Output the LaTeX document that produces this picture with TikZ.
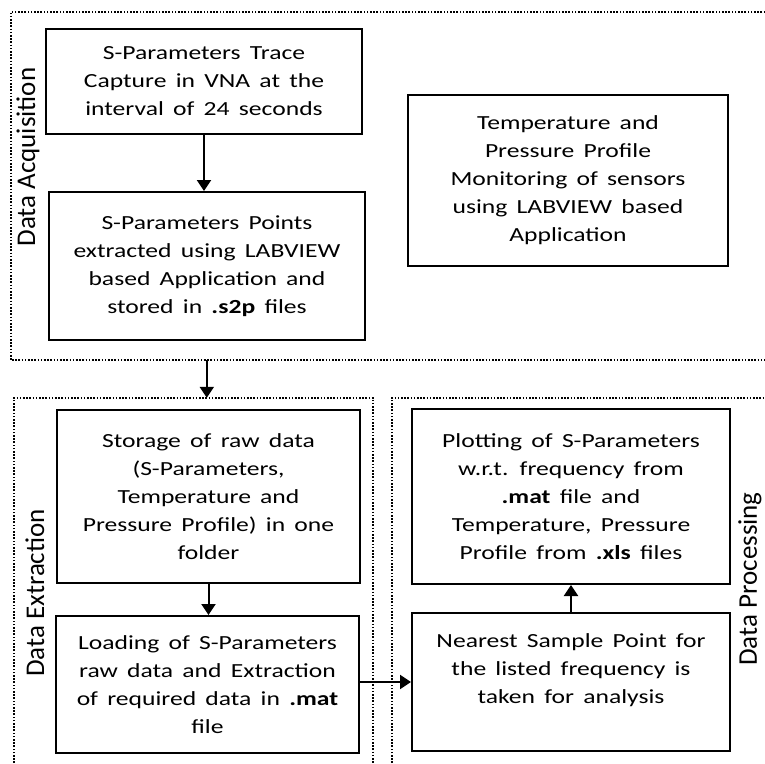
\documentclass[tikz,border=0pt]{standalone}
\usepackage{fontspec}
\setmainfont{Carlito}
\newfontfamily\boxfont[FakeStretch=1.28,WordSpace=1.6]{Carlito}
\usetikzlibrary{arrows.meta}
\begin{document}
\begin{tikzpicture}[x=1pt,y=-1pt,
  box/.style={draw=black,line width=2pt,align=center,inner sep=0pt,
    font=\boxfont\fontsize{20}{28}\selectfont},
  region/.style={draw=none,inner sep=0pt},
  dotline/.style={line width=1.6pt,dash pattern=on 1.6pt off 1.6pt},
  arr/.style={line width=2pt,-{Triangle[length=11pt,width=14pt]}},
  lbl/.style={rotate=90,font=\fontsize{27}{30}\selectfont}]
\useasboundingbox (0,0) rectangle (765,763);
% regions
\node[region,minimum width=754pt,minimum height=348pt] (da) at (388,186) {};
\node[region,minimum width=359pt,minimum height=368pt] (de) at (193.5,582) {};
\node[region,minimum width=373pt,minimum height=368pt] (dp) at (578.5,582) {};
\draw[dotline] (da.north east) -- (da.north west) -- (da.south west) -- (da.south east);
\draw[dotline] (de.south west) -- (de.north west) -- (de.north east) -- (de.south east);
\draw[dotline] (dp.south west) -- (dp.north west) -- (dp.north east);
% labels
\node[lbl] (lda) at (28,157) {Data Acquisition};
\node[lbl] (lde) at (35,593) {Data Extraction};
\node[lbl] (ldp) at (750,579) {Data Processing};
% boxes
\node[box,minimum width=316pt,minimum height=105pt] (b1) at (204,81.5)
  {S-Parameters Trace\\Capture in VNA at the\\interval of 24 seconds};
\node[box,minimum width=316pt,minimum height=148pt] (b2) at (207,266)
  {S-Parameters Points\\extracted using LABVIEW\\based Application and\\stored in \textbf{.s2p} files};
\node[box,minimum width=320pt,minimum height=171pt] (b3) at (568,180.5)
  {Temperature and\\Pressure Profile\\Monitoring of sensors\\using LABVIEW based\\Application};
\node[box,minimum width=303pt,minimum height=173pt] (b4) at (208.5,496.5)
  {Storage of raw data\\(S-Parameters,\\Temperature and\\Pressure Profile) in one\\folder};
\node[box,minimum width=303pt,minimum height=137pt] (b5) at (207.5,684.5)
  {Loading of S-Parameters\\raw data and Extraction\\of required data in \textbf{.mat}\\file};
\node[box,minimum width=318pt,minimum height=175pt] (b7) at (571,496.5)
  {Plotting of S-Parameters\\w.r.t. frequency from\\\textbf{.mat} file and\\Temperature, Pressure\\Profile from \textbf{.xls} files};
\node[box,minimum width=318pt,minimum height=138pt,text depth=27pt] (b6) at (571,682)
  {Nearest Sample Point for\\the listed frequency is\\taken for analysis};
% connectors
\draw[arr] (b1.south) -- (b1.south |- b2.north);
\draw[arr] (da.south west) ++(196,0) coordinate (dastart) -- (dastart |- de.north);
\draw[arr] (b4.south) -- (b4.south |- b5.north);
\draw[arr] (b5.east |- b6.west) -- (b6.west);
\draw[arr] (b6.north) -- (b6.north |- b7.south);
\end{tikzpicture}
\end{document}
